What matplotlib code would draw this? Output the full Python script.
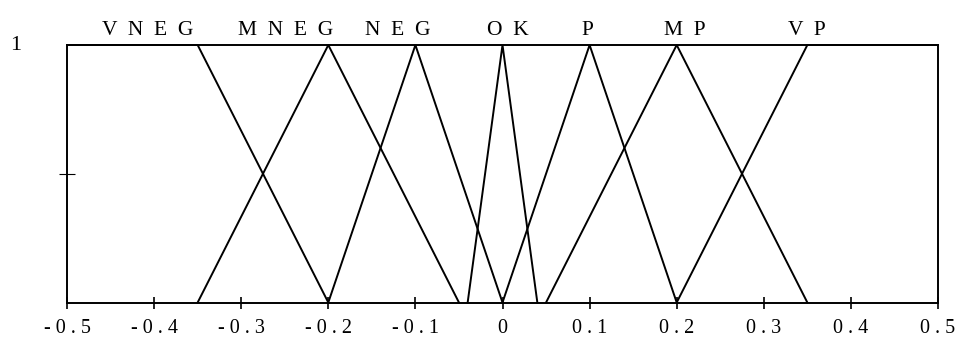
import numpy as np
import matplotlib
matplotlib.use('Agg')
import matplotlib.pyplot as plt

# %% membership functions (breakpoints, membership values)
vneg_x = [-0.5, -0.35, -0.2]
vneg_y = [1, 1, 0]
mneg_x = [-0.35, -0.2, -0.05]
mneg_y = [0, 1, 0]
neg_x = [-0.2, -0.1, 0.0]
neg_y = [0, 1, 0]
ok_x = [-0.04, 0.0, 0.04]
ok_y = [0, 1, 0]
p_x = [0.0, 0.1, 0.2]
p_y = [0, 1, 0]
mp_x = [0.05, 0.2, 0.35]
mp_y = [0, 1, 0]
vp_x = [0.2, 0.35, 0.5]
vp_y = [0, 1, 1]

set_names = ['V  N  E  G', 'M  N  E  G', 'N  E  G', 'O  K', 'P', 'M  P', 'V  P']
name_pos = [-0.407, -0.249, -0.12, 0.006, 0.098, 0.209, 0.35]

xticks = [-0.5, -0.4, -0.3, -0.2, -0.1, 0, 0.1, 0.2, 0.3, 0.4, 0.5]
xticklabels = ['- 0 . 5', '- 0 . 4', '- 0 . 3', '- 0 . 2', '- 0 . 1', '0',
               '0 . 1', '0 . 2', '0 . 3', '0 . 4', '0 . 5']

plt.rcParams['font.family'] = ['Liberation Serif', 'DejaVu Serif']

# %% plot
fig = plt.figure(figsize=(9.55, 3.38), dpi=100)
ax = fig.add_axes([67 / 955, 1 - 302.5 / 338, 871 / 955, 257.5 / 338])

for xs, ys in [(vneg_x, vneg_y), (mneg_x, mneg_y), (neg_x, neg_y),
               (ok_x, ok_y), (p_x, p_y), (mp_x, mp_y), (vp_x, vp_y)]:
    ax.plot(xs, ys, color='black', lw=1.4, solid_joinstyle='miter',
            clip_on=False)

for name, pos in zip(set_names, name_pos):
    ax.text(pos, 1.04, name, ha='center', va='baseline', fontsize=15.5,
            transform=ax.get_xaxis_transform())

ax.set_xlim(-0.5, 0.5)
ax.set_ylim(0, 1)
ax.set_xticks(xticks)
ax.set_xticklabels(xticklabels, fontsize=14.5)
ax.tick_params(axis='x', direction='inout', length=8, width=1.2, pad=8)
ax.set_yticks([0.5])
ax.set_yticklabels([''])
ax.tick_params(axis='y', direction='inout', length=12, width=0.8)
ax.text(-0.059, 1.0, '1', ha='center', va='center', fontsize=16,
        transform=ax.transAxes)

for side in ax.spines.values():
    side.set_linewidth(1.4)

fig.savefig('out.png', dpi=100)
